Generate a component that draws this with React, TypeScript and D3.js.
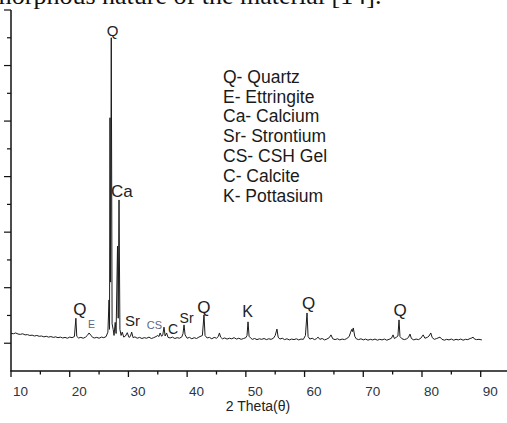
import React from "react";
import * as d3 from "d3";

// XRD pattern: [2θ (deg), intensity (counts)]
const pattern: [number, number][] = [
  [10.0, 136], [10.4, 134], [10.8, 137], [11.2, 133], [11.6, 132], [12.0, 134],
  [12.4, 130], [12.8, 131], [13.2, 128], [13.6, 129], [14.0, 126], [14.4, 128],
  [14.8, 125], [15.2, 126], [15.6, 123], [16.0, 125], [16.4, 122], [16.8, 124],
  [17.2, 121], [17.6, 123], [18.0, 120], [18.4, 122], [18.8, 119], [19.2, 121],
  [19.6, 118], [20.0, 122], [20.4, 120], [20.8, 124], [21.05, 190], [21.2, 125],
  [21.5, 119], [21.9, 121], [22.3, 118], [22.7, 122], [23.0, 128], [23.3, 137],
  [23.6, 129], [23.9, 121], [24.2, 119], [24.6, 121], [25.0, 118], [25.4, 122],
  [25.8, 120], [26.2, 124], [26.5, 140], [26.7, 256], [26.78, 150], [26.86, 912],
  [26.96, 320], [27.08, 1200], [27.22, 170], [27.4, 150], [27.55, 128],
  [27.75, 175], [27.9, 135], [28.14, 450], [28.26, 190], [28.4, 616], [28.55, 150],
  [28.75, 128], [28.95, 140], [29.2, 122], [29.5, 126], [29.8, 138], [30.1, 121],
  [30.35, 125], [30.55, 140], [30.8, 120], [31.1, 123], [31.5, 118], [31.9, 121],
  [32.3, 117], [32.7, 120], [33.1, 118], [33.5, 122], [33.9, 117], [34.3, 120],
  [34.7, 124], [35.0, 128], [35.2, 124], [35.4, 137], [35.65, 125], [35.85, 130],
  [36.06, 158], [36.25, 126], [36.5, 137], [36.75, 121], [37.1, 119], [37.5, 122],
  [37.9, 117], [38.3, 120], [38.7, 118], [39.1, 123], [39.3, 135], [39.47, 166],
  [39.65, 130], [40.0, 118], [40.4, 121], [40.8, 116], [41.2, 120], [41.6, 117],
  [42.0, 122], [42.6, 128], [42.87, 202], [43.05, 128], [43.4, 119], [43.8, 121],
  [44.2, 116], [44.6, 121], [45.0, 118], [45.3, 124], [45.5, 137], [45.7, 122],
  [46.0, 116], [46.4, 119], [46.8, 115], [47.2, 118], [47.6, 116], [48.0, 120],
  [48.4, 115], [48.8, 118], [49.2, 114], [49.6, 117], [50.0, 120], [50.2, 128],
  [50.37, 177], [50.55, 125], [50.8, 119], [51.1, 114], [51.5, 117], [51.9, 113],
  [52.3, 116], [52.7, 114], [53.1, 117], [53.5, 113], [53.9, 116], [54.3, 114],
  [54.7, 118], [55.0, 128], [55.3, 151], [55.5, 122], [55.8, 115], [56.2, 118],
  [56.6, 113], [57.0, 116], [57.4, 112], [57.8, 115], [58.2, 113], [58.6, 116],
  [59.0, 112], [59.4, 115], [59.8, 114], [60.15, 128], [60.42, 209], [60.6, 124],
  [60.9, 115], [61.3, 118], [61.7, 113], [62.0, 116], [62.3, 122], [62.6, 114],
  [63.0, 117], [63.4, 112], [63.8, 115], [64.2, 120], [64.5, 130], [64.8, 116],
  [65.2, 113], [65.6, 116], [66.0, 112], [66.4, 115], [66.8, 113], [67.2, 117],
  [67.6, 124], [67.85, 140], [68.05, 150], [68.15, 142], [68.3, 155], [68.55, 125],
  [68.8, 116], [69.2, 113], [69.6, 116], [70.0, 112], [70.4, 115], [70.8, 111],
  [71.2, 114], [71.6, 112], [72.0, 115], [72.4, 111], [72.8, 114], [73.2, 112],
  [73.6, 115], [74.0, 111], [74.4, 114], [74.8, 118], [75.07, 130], [75.3, 117],
  [75.6, 121], [75.9, 126], [76.09, 184], [76.25, 124], [76.6, 116], [77.0, 113],
  [77.4, 116], [77.7, 121], [77.96, 133], [78.2, 117], [78.6, 112], [79.0, 115],
  [79.4, 113], [79.8, 118], [80.2, 130], [80.5, 118], [80.9, 121], [81.2, 126],
  [81.5, 137], [81.75, 120], [82.1, 114], [82.5, 117], [83.07, 122], [83.4, 114],
  [83.8, 111], [84.2, 114], [84.6, 112], [85.0, 115], [85.4, 111], [85.8, 114],
  [86.2, 112], [86.6, 115], [87.0, 111], [87.4, 114], [87.8, 113], [88.2, 117],
  [88.5, 119], [88.7, 122], [88.95, 115], [89.3, 113], [89.7, 114], [90.2, 112],
];

// Phase labels placed above their reflections: [text, 2θ, counts, font size, colour]
const peakLabels: [string, number, number, number, string][] = [
  ["Q", 27.29, 1207, 15, "#222"],
  ["Ca", 28.9, 627, 17, "#222"],
  ["Q", 21.75, 203, 17, "#222"],
  ["E", 23.71, 155, 10.5, "#5a6784"],
  ["Sr", 30.7, 162, 15, "#222"],
  ["CS", 34.44, 153, 11, "#5a6784"],
  ["C", 37.6, 133, 14, "#222"],
  ["Sr", 39.9, 173, 14, "#222"],
  ["Q", 42.87, 209, 17, "#222"],
  ["K", 50.28, 195, 16, "#222"],
  ["Q", 60.67, 223, 17, "#222"],
  ["Q", 76.26, 198, 17, "#222"],
];

const legendLines: string[] = [
  "Q- Quartz",
  "E- Ettringite",
  "Ca- Calcium",
  "Sr- Strontium",
  "CS- CSH Gel",
  "C- Calcite",
  "K- Pottasium",
];

const xMajorTicks: number[] = [10, 20, 30, 40, 50, 60, 70, 80, 90];
const xMinorTicks: number[] = [15, 25, 35, 45, 55, 65, 75, 85];
const yTicks: number[] = [100, 200, 300, 400, 500, 600, 700, 800, 900, 1000, 1100, 1200, 1300];

const xTitle = "2 Theta(θ)";
const caption = "amorphous nature of the material [14].";

const W = 507;
const H = 423;
const SANS = "'Liberation Sans', Arial, Helvetica, sans-serif";

export default function App() {
  const x = d3.scaleLinear().domain([10, 90]).range([11, 480.7]);
  const y = d3.scaleLinear().domain([0, 1300]).range([371, 10]);
  const line = d3
    .line<[number, number]>()
    .x((d) => x(d[0]))
    .y((d) => y(d[1]));

  const axisY = y(0);

  return (
    <svg
      width={W}
      height={H}
      viewBox={`0 0 ${W} ${H}`}
      style={{ position: "absolute", left: 0, top: 0, background: "#fff" }}
    >
      <rect x={0} y={0} width={W} height={H} fill="#fff" />

      {/* running text above the figure, cut by the page edge */}
      <text
        x={-20}
        y={3.5}
        fontFamily="'Liberation Serif', 'Times New Roman', serif"
        fontSize={26}
        fill="#111"
      >
        {caption}
      </text>

      {/* diffraction pattern */}
      <path d={line(pattern) ?? ""} fill="none" stroke="#1c1c1c" strokeWidth={1} strokeLinejoin="round" />

      {/* y axis */}
      <line x1={x(10)} x2={x(10)} y1={y(1300)} y2={axisY} stroke="#111" strokeWidth={1.5} />
      {yTicks.map((t) => {
        const major = t % 200 === 100;
        return (
          <line
            key={`yt${t}`}
            x1={x(10) - (major ? 7 : 4)}
            x2={x(10)}
            y1={y(t)}
            y2={y(t)}
            stroke="#111"
            strokeWidth={1.2}
          />
        );
      })}

      {/* x axis */}
      <line x1={x(10) - 0.75} x2={W} y1={axisY} y2={axisY} stroke="#111" strokeWidth={1.5} />
      {xMajorTicks.map((t) => (
        <line key={`xM${t}`} x1={x(t)} x2={x(t)} y1={axisY} y2={axisY + 6} stroke="#111" strokeWidth={1.3} />
      ))}
      {xMinorTicks.map((t) => (
        <line key={`xm${t}`} x1={x(t)} x2={x(t)} y1={axisY} y2={axisY + 3.5} stroke="#111" strokeWidth={1.3} />
      ))}
      {xMajorTicks.map((t) => (
        <text
          key={`xl${t}`}
          x={x(t) + 9.5}
          y={396}
          textAnchor="middle"
          fontFamily={SANS}
          fontSize={13.5}
          fill="#2e3440"
        >
          {t}
        </text>
      ))}
      <text x={258} y={411} textAnchor="middle" fontFamily={SANS} fontSize={14} fill="#222">
        {xTitle}
      </text>

      {/* peak annotations */}
      {peakLabels.map(([txt, t, c, size, color], i) => (
        <text
          key={`pl${i}`}
          x={x(t)}
          y={y(c)}
          textAnchor="middle"
          fontFamily={SANS}
          fontSize={size}
          fill={color}
        >
          {txt}
        </text>
      ))}

      {/* phase legend */}
      {legendLines.map((s, i) => (
        <text key={`lg${i}`} x={223} y={82.7 + i * 19.8} fontFamily={SANS} fontSize={17.5} fill="#1a1a1a">
          {s}
        </text>
      ))}
    </svg>
  );
}
